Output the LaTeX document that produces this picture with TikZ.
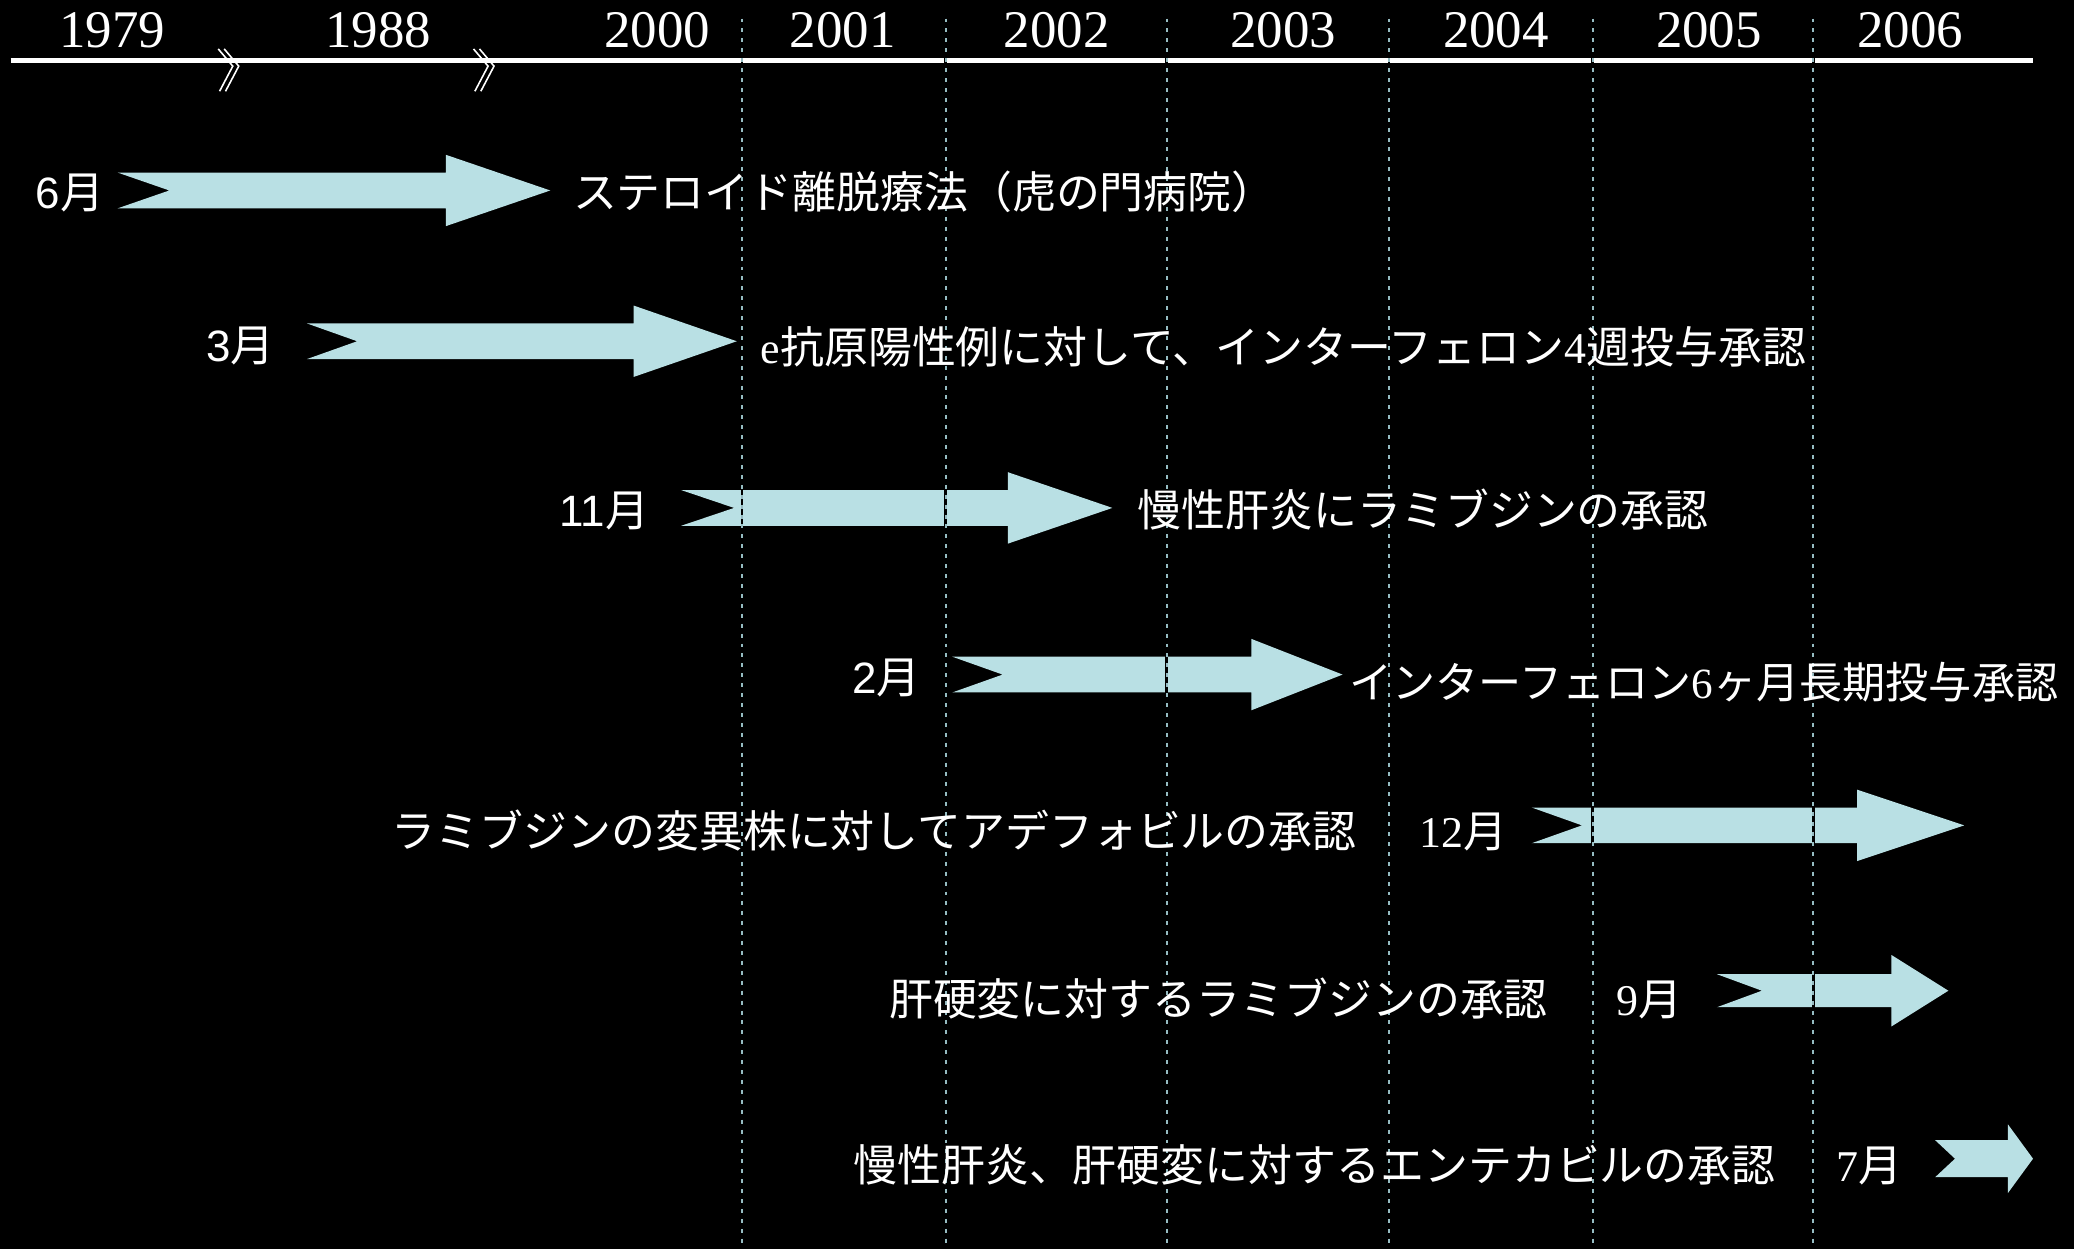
\documentclass[tikz,border=0pt]{standalone}
\usepackage{fontspec}
\setmainfont{Liberation Serif}
\newfontfamily\jp{Noto Sans CJK JP}
\newfontfamily\sansf{Liberation Sans}
\newfontfamily\serf{Liberation Serif}
\definecolor{arrowfill}{RGB}{185,224,228}
\definecolor{dotcol}{RGB}{150,188,194}
\newcommand\tlarrow[7]{%
  \fill[arrowfill] ({#1},{#5-#6}) -- ({#3},{#5-#6}) -- ({#3},{#5-#7}) -- ({#4},{#5})
    -- ({#3},{#5+#7}) -- ({#3},{#5+#6}) -- ({#1},{#5+#6}) -- ({#2},{#5}) -- cycle;}
\tikzset{
  year/.style={text=white, font=\serf\fontsize{40}{44}\selectfont, anchor=base, inner sep=0pt},
  evtext/.style={text=white, font=\jp\fontsize{33.2}{40}\selectfont, anchor=base west, inner sep=0pt},
  monthL/.style={text=white, font=\fontsize{33.2}{40}\selectfont, anchor=base east, inner sep=0pt},
  monthR/.style={text=white, font=\fontsize{33.2}{40}\selectfont, anchor=base west, inner sep=0pt},
  breakmark/.style={draw=white, line width=1.2pt},
}
\begin{document}
\begin{tikzpicture}[x=1pt,y=-1pt]
\fill[black] (0,0) rectangle (1568,944);
\useasboundingbox (0,0) rectangle (1568,944);
% arrows
\tlarrow{89}{128}{337}{416}{144}{13.5}{27}
\tlarrow{232}{270}{479}{557}{258}{13.5}{27}
\tlarrow{515}{555}{762}{841}{384}{13.5}{27}
\tlarrow{720}{758}{946}{1015}{510}{13.5}{27}
\tlarrow{1158}{1196}{1404}{1485}{624}{13.5}{27}
\tlarrow{1298}{1332}{1430}{1473}{749}{12.5}{27}
\tlarrow{1463}{1478}{1518}{1537}{876}{14}{26}
% axis
\draw[white, line width=4pt] (8,46) -- (1537,46);
% break marks
\foreach \bx in {165,358}{
  \draw[breakmark] (\bx,37) -- (\bx+11,50) -- (\bx+1,69);
  \draw[breakmark] (\bx+4.5,37) -- (\bx+15.5,50) -- (\bx+5.5,69);
}
% dotted year separators
\foreach \dx in {561,715,882,1050,1204,1371}{
  \draw[black, line width=2pt] (\dx,14) -- (\dx,944);
  \draw[dotcol, line width=1.5pt, dash pattern=on 3pt off 4.5pt] (\dx,14) -- (\dx,944);
}
% years
\node[year] (y1979) at (85,36) {1979};
\node[year] (y1988) at (286,36) {1988};
\node[year] (y2000) at (497,36) {2000};
\node[year] (y2001) at (637,36) {2001};
\node[year] (y2002) at (799,36) {2002};
\node[year] (y2003) at (970,36) {2003};
\node[year] (y2004) at (1131,36) {2004};
\node[year] (y2005) at (1292,36) {2005};
\node[year] (y2006) at (1444,36) {2006};
% month labels
\node[monthL] (m1) at (79,158) {{\sansf 6}{\jp 月}};
\node[monthL] (m2) at (208,273) {{\sansf 3}{\jp 月}};
\node[monthL] (m3) at (491,398) {{\sansf 11}{\jp 月}};
\node[monthL] (m4) at (696,524) {{\sansf 2}{\jp 月}};
\node[monthR] (m5) at (1073,641) {{\serf 12}{\jp 月}};
\node[monthR] (m6) at (1222,768) {{\serf 9}{\jp 月}};
\node[monthR] (m7) at (1388,893) {{\serf 7}{\jp 月}};
% event texts
\node[evtext] (t1) at (433,158) {ステロイド離脱療法（虎の門病院）};
\node[evtext] (t2) at (575,275) {{\serf e}抗原陽性例に対して、インターフェロン{\serf 4}週投与承認};
\node[evtext] (t3) at (860,398) {慢性肝炎にラミブジンの承認};
\node[evtext, font=\jp\fontsize{32.6}{40}\selectfont] (t4) at (1020,528) {インターフェロン{\serf 6}ヶ月長期投与承認};
\node[evtext] (t5) at (296,641) {ラミブジンの変異株に対してアデフォビルの承認};
\node[evtext] (t6) at (672,768) {肝硬変に対するラミブジンの承認};
\node[evtext] (t7) at (645,893) {慢性肝炎、肝硬変に対するエンテカビルの承認};
\end{tikzpicture}
\end{document}
